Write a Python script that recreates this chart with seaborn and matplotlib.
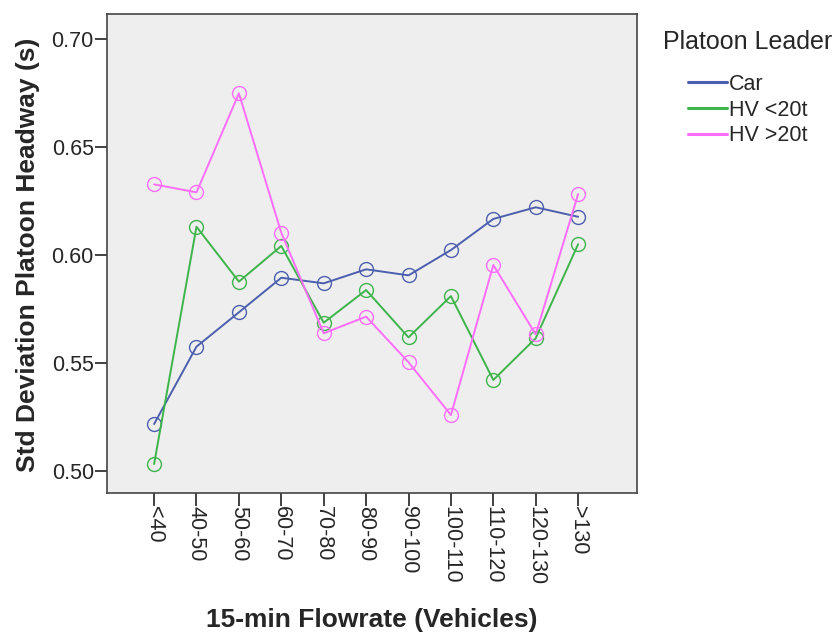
import numpy as np
import pandas as pd
import matplotlib
matplotlib.use('Agg')
import matplotlib.pyplot as plt
import seaborn as sns
from matplotlib.lines import Line2D

# DATA
flow_bins = ['<40', '40-50', '50-60', '60-70', '70-80', '80-90',
             '90-100', '100-110', '110-120', '120-130', '>130']
car = [0.5217, 0.5575, 0.5734, 0.5894, 0.5868, 0.5933, 0.5905, 0.6022, 0.6166, 0.6220, 0.6176]
hv_small = [0.5032, 0.6130, 0.5876, 0.6041, 0.5686, 0.5837, 0.5618, 0.5809, 0.5421, 0.5614, 0.6049]
hv_large = [0.6326, 0.6289, 0.6747, 0.6102, 0.5637, 0.5714, 0.5503, 0.5259, 0.5953, 0.5632, 0.6281]
leaders = ['Car', 'HV <20t', 'HV >20t']
colors = ['#4C5FAE', '#3DB54A', '#FF6DFF']
y_ticks = [0.50, 0.55, 0.60, 0.65, 0.70]

sns.set_style('white')
plt.rcParams['font.family'] = ['Liberation Sans', 'DejaVu Sans']

# long frame for seaborn
frames = []
for name, vals in zip(leaders, [car, hv_small, hv_large]):
    frames.append(pd.DataFrame({'pos': np.arange(len(flow_bins)), 'flow': flow_bins,
                                'sd': vals, 'leader': name}))
df = pd.concat(frames, ignore_index=True)

fig = plt.figure(figsize=(8.4, 6.35), dpi=100)
ax = fig.add_axes([0.1274, 0.2236, 0.6310, 0.7543])
ax.set_facecolor('#EEEEEE')

for name, c in zip(leaders, colors):
    sns.lineplot(data=df[df['leader'] == name], x='pos', y='sd', color=c,
                 marker='o', markersize=10, markerfacecolor='none',
                 markeredgecolor=c, markeredgewidth=1.0, linewidth=1.4,
                 ax=ax, legend=False)

ax.set_xlim(-1.11, 11.39)
ax.set_ylim(0.4898, 0.7114)
ax.set_xticks(np.arange(len(flow_bins)))
ax.set_xticklabels(flow_bins, rotation=270, fontsize=15.5)
ax.set_yticks(y_ticks)
ax.set_yticklabels([f'{v:.2f}' for v in y_ticks], fontsize=15.5)
ax.tick_params(axis='both', direction='out', length=9, width=1.3, color='#333333',
               bottom=True, left=True, pad=0.5)

for s in ax.spines.values():
    s.set_color('#444444')
    s.set_linewidth(1.2)

ax.set_xlabel('15-min Flowrate (Vehicles)', fontsize=19, fontweight='bold', va='center')
ax.set_ylabel('Std Deviation Platoon Headway (s)', fontsize=19, fontweight='bold', va='center')
ax.xaxis.set_label_coords(0.5, -0.265)
ax.yaxis.set_label_coords(-0.149, 0.497)

# legend: title as text, entries indented below it
fig.text(663 / 840, 1 - 42 / 635, 'Platoon Leader', fontsize=18, ha='left', va='center')
handles = [Line2D([0], [0], color=c, lw=2.2) for c in colors]
fig.legend(handles, leaders, loc='upper left', bbox_to_anchor=(688 / 840, 1 - 74 / 635),
           frameon=False, fontsize=15.5, handlelength=1.8, handletextpad=0.1,
           labelspacing=0.22, borderpad=0, borderaxespad=0)

plt.savefig('out.png', dpi=100)
plt.close()
